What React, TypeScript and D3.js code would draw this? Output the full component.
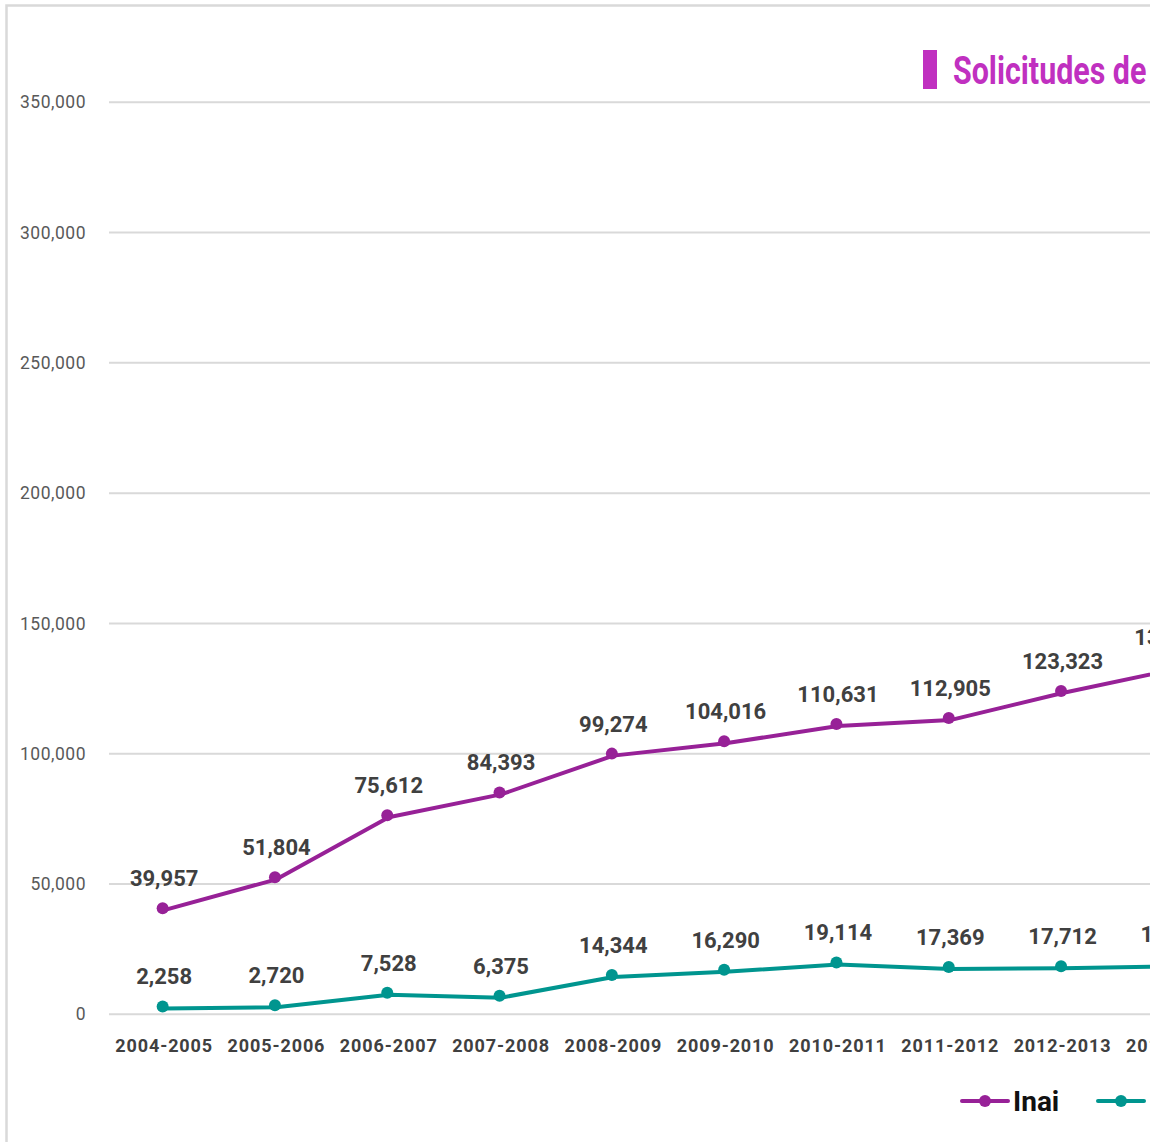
import * as d3 from 'd3';
import React from 'react';

const periods = [
  '2004-2005', '2005-2006', '2006-2007', '2007-2008', '2008-2009',
  '2009-2010', '2010-2011', '2011-2012', '2012-2013', '2013-2014',
];
const inaiValues = [39957, 51804, 75612, 84393, 99274, 104016, 110631, 112905, 123323, 132400];
const otherValues = [2258, 2720, 7528, 6375, 14344, 16290, 19114, 17369, 17712, 18400];
const yTicks = [0, 50000, 100000, 150000, 200000, 250000, 300000, 350000];

const series = [
  { name: 'Inai', color: '#972197', values: inaiValues },
  { name: 'Estados', color: '#00958f', values: otherValues },
];

const W = 1400;
const H = 1142;
const fmt = d3.format(',');

export default function App() {
  const x = d3.scaleBand<string>().domain(periods).range([108, 108 + periods.length * 112.3]);
  const y = d3.scaleLinear().domain([0, 350000]).range([1014.3, 102.3]);
  const cx = (p: string) => (x(p) ?? 0) + x.bandwidth() / 2;

  const line = d3
    .line<number>()
    .x((_, i) => cx(periods[i]))
    .y((d) => y(d));

  const font = 'Roboto, "Liberation Sans", sans-serif';

  return (
    <div style={{ position: 'fixed', left: 0, top: 0, width: 1150, height: 1142, overflow: 'hidden', background: '#fff' }}>
      <svg width={W} height={H} style={{ display: 'block' }}>
        <rect x={6.5} y={5.5} width={W + 100} height={H + 100} fill="none" stroke="#d9d9d9" strokeWidth={2.5} />

        {/* title */}
        <rect x={923} y={50} width={14} height={39} fill="#c030c0" />
        <text
          x={0}
          y={0}
          transform="translate(953,84) scale(0.8,1)"
          fontFamily={font}
          fontWeight={700}
          fontSize={38}
          fill="#c030c0"
        >
          Solicitudes de información
        </text>

        {/* grid + y axis */}
        {yTicks.map((t) => (
          <g key={t}>
            <line x1={109} x2={W} y1={y(t)} y2={y(t)} stroke="#d9d9d9" strokeWidth={2} />
            <text
              x={86}
              y={y(t)}
              dy="0.35em"
              textAnchor="end"
              fontFamily={font}
              fontSize={17.5}
              letterSpacing={0.5}
              fill="#595959"
            >
              {fmt(t)}
            </text>
          </g>
        ))}

        {/* x axis labels */}
        {periods.map((p) => (
          <text
            key={p}
            x={cx(p)}
            y={1052}
            textAnchor="middle"
            fontFamily={font}
            fontWeight={700}
            fontSize={18}
            letterSpacing={0.9}
            fill="#404040"
          >
            {p}
          </text>
        ))}

        {/* series */}
        {series.map((s) => (
          <g key={s.name}>
            <path d={line(s.values) ?? ''} fill="none" stroke={s.color} strokeWidth={4} strokeLinejoin="round" />
            <g transform="translate(-1.5,-2)">
              {s.values.map((v, i) => (
                <circle key={i} cx={cx(periods[i])} cy={y(v)} r={6} fill={s.color} />
              ))}
            </g>
            {s.values.map((v, i) => (
              <text
                key={i}
                x={cx(periods[i])}
                y={y(v) - 24}
                textAnchor="middle"
                fontFamily={font}
                fontWeight={700}
                fontSize={22}
                fill="#404040"
              >
                {fmt(v)}
              </text>
            ))}
          </g>
        ))}

        {/* legend */}
        {series.map((s, i) => {
          const lx = 962 + i * 136;
          return (
            <g key={s.name}>
              <line x1={lx} x2={lx + 46} y1={1101} y2={1101} stroke={s.color} strokeWidth={4} strokeLinecap="round" />
              <circle cx={lx + 23} cy={1101} r={6} fill={s.color} />
              <text x={lx + 51} y={1111} fontFamily={font} fontWeight={700} fontSize={28} fill="#111">
                {s.name}
              </text>
            </g>
          );
        })}
      </svg>
    </div>
  );
}
